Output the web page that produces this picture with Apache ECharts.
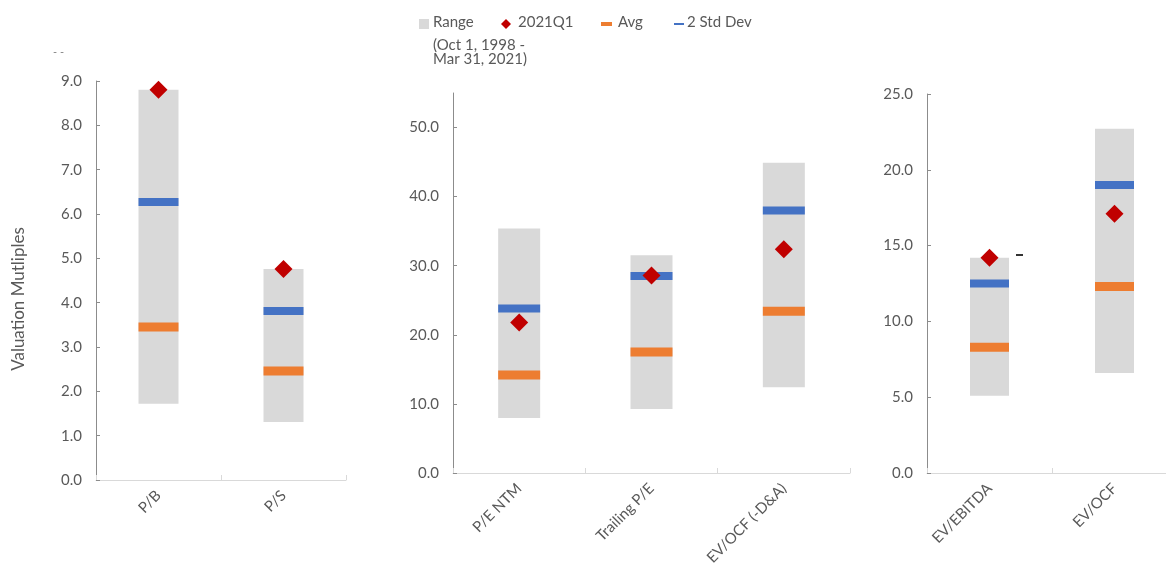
<!DOCTYPE html>
<html>
<head>
<meta charset="utf-8">
<title>Valuation Multiples</title>
<script src="https://cdn.jsdelivr.net/npm/echarts@6/dist/echarts.min.js"></script>
<style>
  html, body { margin: 0; padding: 0; background: #ffffff; }
  #chart { width: 1166px; height: 565px; }
</style>
</head>
<body>
<div id="chart"></div>
<script>
// Price multiples
const catsA = ['P/B', 'P/S'];
const lowA  = [1.72, 1.31];
const highA = [8.8, 4.76];
const avgA  = [3.45, 2.46];
const stdA  = [6.27, 3.81];
const q1A   = [8.8, 4.76];

// Earnings / cash-flow multiples
const catsB = ['P/E NTM', 'Trailing P/E', 'EV/OCF (-D&A)'];
const lowB  = [7.95, 9.25, 12.4];
const highB = [35.4, 31.5, 44.9];
const avgB  = [14.2, 17.5, 23.4];
const stdB  = [23.8, 28.5, 38.0];
const q1B   = [21.8, 28.6, 32.4];

// Enterprise value multiples
const catsC = ['EV/EBITDA', 'EV/OCF'];
const lowC  = [5.1, 6.6];
const highC = [14.2, 22.7];
const avgC  = [8.3, 12.3];
const stdC  = [12.5, 19.0];
const q1C   = [14.2, 17.1];

// Tick labels for each value axis
const ticksA = [0, 1, 2, 3, 4, 5, 6, 7, 8, 9];
const ticksB = [0, 10, 20, 30, 40, 50];
const ticksC = [0, 5, 10, 15, 20, 25];

const FONT = 'Lato, "Open Sans", sans-serif';
const TXT = '#595959';
const GREY = '#d9d9d9';
const RED = '#c00000';
const ORANGE = '#ed7d31';
const BLUE = '#4472c4';

const panels = [
  { cats: catsA, low: lowA, high: highA, avg: avgA, std: stdA, q1: q1A, ticks: ticksA, max: 9,  bw: 40 },
  { cats: catsB, low: lowB, high: highB, avg: avgB, std: stdB, q1: q1B, ticks: ticksB, max: 55, bw: 42 },
  { cats: catsC, low: lowC, high: highC, avg: avgC, std: stdC, q1: q1C, ticks: ticksC, max: 25, bw: 39 }
];

// Fixed plot rectangles; labels may run past the canvas edge
const grids = [
  { left: 96,  right: 820, top: 81, bottom: 85, outerBoundsMode: 'none', containLabel: false },
  { left: 453, right: 316, top: 93, bottom: 92, outerBoundsMode: 'none', containLabel: false },
  { left: 927, right: -11, top: 94, bottom: 92, outerBoundsMode: 'none', containLabel: false }
];

const xAxes = panels.map((p, i) => ({
  type: 'category',
  gridIndex: i,
  data: p.cats,
  axisLine: { lineStyle: { color: GREY, width: 1 } },
  axisTick: { show: true, inside: true, length: 5, lineStyle: { color: GREY } },
  axisLabel: { rotate: 45, margin: 13, color: TXT, fontFamily: FONT, fontSize: 15, interval: 0 },
  splitLine: { show: false }
}));

const yAxes = panels.map((p, i) => ({
  type: 'value',
  gridIndex: i,
  min: 0,
  max: p.max,
  interval: p.ticks[1] - p.ticks[0],
  axisLine: { show: true, lineStyle: { color: '#8c8c8c', width: 1 } },
  axisTick: { show: true, inside: true, length: 4, lineStyle: { color: '#8c8c8c' }, customValues: p.ticks },
  axisLabel: {
    color: TXT, fontFamily: FONT, fontSize: 15, margin: 14,
    customValues: p.ticks,
    formatter: v => v.toFixed(1)
  },
  splitLine: { show: false }
}));

const series = [];
panels.forEach((p, i) => {
  series.push({
    name: 'base', type: 'bar', stack: 'r' + i, xAxisIndex: i, yAxisIndex: i,
    barWidth: p.bw, silent: true,
    itemStyle: { color: 'transparent' },
    data: p.low
  });
  series.push({
    name: 'Range', type: 'bar', stack: 'r' + i, xAxisIndex: i, yAxisIndex: i,
    barWidth: p.bw, silent: true,
    itemStyle: { color: GREY },
    data: p.high.map((h, k) => +(h - p.low[k]).toFixed(3))
  });
  series.push({
    name: 'Avg', type: 'scatter', xAxisIndex: i, yAxisIndex: i,
    symbol: 'rect', symbolSize: [p.bw, 9],
    itemStyle: { color: ORANGE, opacity: 1 },
    data: p.avg, z: 3
  });
  series.push({
    name: '2 Std Dev', type: 'scatter', xAxisIndex: i, yAxisIndex: i,
    symbol: 'rect', symbolSize: [p.bw, 8],
    itemStyle: { color: BLUE, opacity: 1 },
    data: p.std, z: 3
  });
  series.push({
    name: '2021Q1', type: 'scatter', xAxisIndex: i, yAxisIndex: i,
    symbol: 'diamond', symbolSize: [18, 18],
    itemStyle: { color: RED, opacity: 1 },
    data: p.q1, z: 4
  });
});

// Legend drawn as a row of swatches with labels
const legendText = (x, y, text) => ({
  type: 'text', left: x, top: y,
  style: { text, fill: TXT, font: '15px ' + FONT }
});
const graphic = [
  { type: 'rect', shape: { x: 419, y: 19, width: 10, height: 10 }, style: { fill: GREY } },
  legendText(433, 15, 'Range'),
  { type: 'polygon', shape: { points: [[506, 19], [511, 24], [506, 29], [501, 24]] }, style: { fill: RED } },
  legendText(518, 15, '2021Q1'),
  { type: 'rect', shape: { x: 601, y: 22, width: 11, height: 4 }, style: { fill: ORANGE } },
  legendText(618, 15, 'Avg'),
  { type: 'rect', shape: { x: 674, y: 23, width: 10, height: 2 }, style: { fill: BLUE } },
  legendText(687, 15, '2 Std Dev'),
  legendText(433, 38, '(Oct 1, 1998 -'),
  legendText(433, 52, 'Mar 31, 2021)'),
  {
    type: 'text', x: 19, y: 299, rotation: Math.PI / 2,
    style: { text: 'Valuation Mutliples', fill: TXT, font: '17px ' + FONT, align: 'center', verticalAlign: 'middle' }
  },
  { type: 'text', left: 53, top: 47, style: { text: '- -', fill: '#7f7f7f', font: '11px ' + FONT } },
  { type: 'rect', shape: { x: 1016, y: 254, width: 7, height: 2 }, style: { fill: '#333333' } }
];

const chart = echarts.init(document.getElementById('chart'), null, { renderer: 'canvas' });
chart.setOption({
  animation: false,
  backgroundColor: '#ffffff',
  textStyle: { fontFamily: FONT },
  grid: grids,
  xAxis: xAxes,
  yAxis: yAxes,
  series,
  graphic
});
</script>
</body>
</html>
